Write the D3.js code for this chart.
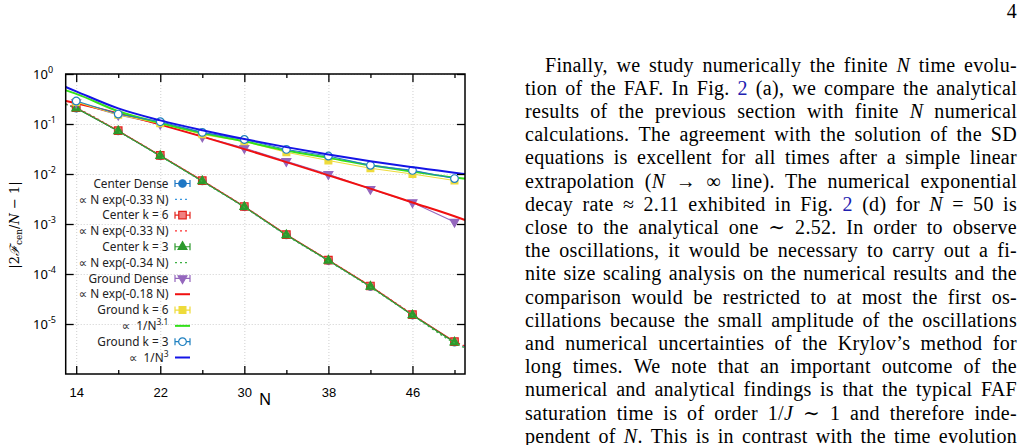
<!DOCTYPE html>
<html>
<head>
<meta charset="utf-8">
<script src="https://cdn.jsdelivr.net/npm/d3@7"></script>
<style>
  body { margin: 0; background: #fff; }
  svg { display: block; }
</style>
</head>
<body>
<svg id="page" width="1024" height="445"></svg>
<script>
// system sizes of the numerical runs
var Ns = [14, 18, 22, 26, 30, 34, 38, 42, 46, 50];

// |2F_cen/N - 1|
var centerDense = [0.208, 0.0725, 0.0232, 0.00725, 0.00221, 6.05e-4, 1.87e-4, 5.65e-5, 1.51e-5, 4.35e-6];
var centerK6 = [0.212, 0.0735, 0.0236, 0.0074, 0.00224, 6.15e-4, 1.9e-4, 5.75e-5, 1.54e-5, 4.45e-6];
var centerK3 = [0.206, 0.072, 0.023, 0.0072, 0.0022, 6.0e-4, 1.86e-4, 5.6e-5, 1.5e-5, 4.3e-6];
var groundDense = [0.27, 0.152, 0.1, 0.056, 0.033, 0.018, 0.0099, 0.005, 0.0027, 0.0011];
var groundK6 = [0.275, 0.153, 0.103, 0.062, 0.045, 0.0272, 0.0186, 0.013, 0.0100, 0.0074];
var groundK3 = [0.288, 0.158, 0.111, 0.068, 0.049, 0.031, 0.0229, 0.0149, 0.0118, 0.0081];

// fitted curves, sampled where they were read
var fitN = [13, 14, 18, 22, 26, 30, 34, 38, 42, 46, 50, 51];
var fitCenterDense = [0.25, 0.207, 0.072, 0.0233, 0.0073, 0.00222, 6.1e-4, 1.88e-4, 5.6e-5, 1.55e-5, 4.4e-6, 3.5e-6];
var fitCenterK6 = [0.252, 0.208, 0.0725, 0.0234, 0.00735, 0.00223, 6.15e-4, 1.9e-4, 5.7e-5, 1.57e-5, 4.5e-6, 3.6e-6];
var fitCenterK3 = [0.248, 0.205, 0.071, 0.0229, 0.0071, 0.00216, 5.95e-4, 1.83e-4, 5.45e-5, 1.5e-5, 4.2e-6, 3.3e-6];
var fitGroundDense = [0.29, 0.261, 0.163, 0.097, 0.056, 0.0314, 0.0173, 0.0094, 0.0051, 0.0027, 0.00143, 0.0012];
var fitGroundK6 = [0.47, 0.40, 0.18, 0.105, 0.066, 0.045, 0.0295, 0.021, 0.0150, 0.0112, 0.0085, 0.0081];
var fitGroundK3 = [0.55, 0.45, 0.205, 0.118, 0.075, 0.050, 0.0345, 0.0245, 0.0180, 0.0137, 0.0106, 0.0100];

var xTicks = [14, 22, 30, 38, 46];
var xMinorTicks = [18, 26, 34, 42, 50];
var yTicks = [1, 1e-1, 1e-2, 1e-3, 1e-4, 1e-5];
var yExponents = ["0", "-1", "-2", "-3", "-4", "-5"];

var bodyLines = [
  "Finally, we study numerically the finite {N} time evolu-",
  "tion of the FAF. In Fig. [2] (a), we compare the analytical",
  "results of the previous section with finite {N} numerical",
  "calculations. The agreement with the solution of the SD",
  "equations is excellent for all times after a simple linear",
  "extrapolation ({N} \u2192 \u221e line). The numerical exponential",
  "decay rate \u2248 2.11 exhibited in Fig. [2] (d) for {N} = 50 is",
  "close to the analytical one \u223c 2.52. In order to observe",
  "the oscillations, it would be necessary to carry out a fi-",
  "nite size scaling analysis on the numerical results and the",
  "comparison would be restricted to at most the first os-",
  "cillations because the small amplitude of the oscillations",
  "and numerical uncertainties of the Krylov\u2019s method for",
  "long times. We note that an important outcome of the",
  "numerical and analytical findings is that the typical FAF",
  "saturation time is of order 1/{J} \u223c 1 and therefore inde-",
  "pendent of {N}. This is in contrast with the time evolution"
];

var svg = d3.select("#page");
svg.append("rect").attr("width", 1024).attr("height", 445).attr("fill", "#fff");

var plotLeft = 65.7, plotRight = 465, plotTop = 74, plotBottom = 374;
var x = d3.scaleLinear().domain([13, 51]).range([plotLeft, plotRight]);
var y = d3.scaleLog().domain([1e-6, 1]).range([plotBottom, plotTop]);

var plot = svg.append("g").attr("font-family", "'Noto Sans', 'DejaVu Sans', sans-serif");

/* ------- GRID -------*/
plot.append("g")
  .attr("transform", "translate(0," + plotBottom + ")")
  .call(d3.axisBottom(x).tickValues(xTicks).tickSize(-(plotBottom - plotTop)).tickFormat(""))
  .call(function (g) { g.select(".domain").remove(); })
  .selectAll("line").attr("stroke", "#cfcfcf").attr("stroke-dasharray", "1,2");
plot.append("g")
  .attr("transform", "translate(" + plotLeft + ",0)")
  .call(d3.axisLeft(y).tickValues(yTicks).tickSize(-(plotRight - plotLeft)).tickFormat(""))
  .call(function (g) { g.select(".domain").remove(); })
  .selectAll("line").attr("stroke", "#cfcfcf").attr("stroke-dasharray", "1,2");

/* ------- SERIES -------*/
var entries = [
  { label: "Center Dense", values: centerDense, color: "#1f77c4", symbol: d3.symbolCircle, size: 44, fill: "#1f77c4" },
  { label: "\u221d N exp(-0.33 N)", fit: fitCenterDense, color: "#3a98e0", dash: "2,3", width: 1.3 },
  { label: "Center k = 6", values: centerK6, color: "#e3231c", symbol: d3.symbolSquare, size: 56, fill: "#f08080" },
  { label: "\u221d N exp(-0.33 N)", fit: fitCenterK6, color: "#ff3030", dash: "2,3", width: 1.3 },
  { label: "Center k = 3", values: centerK3, color: "#2c9a2c", symbol: d3.symbolTriangle, size: 34, fill: "#2c9a2c" },
  { label: "\u221d N exp(-0.34 N)", fit: fitCenterK3, color: "#3cb043", dash: "2,3", width: 1.3 },
  { label: "Ground Dense", values: groundDense, color: "#9467bd", symbol: d3.symbolTriangle, size: 34, fill: "#9467bd", rotate: 180 },
  { label: "\u221d N exp(-0.18 N)", fit: fitGroundDense, color: "#f01010", width: 2 },
  { label: "Ground k = 6", values: groundK6, color: "#eedb3a", symbol: d3.symbolSquare, size: 46, fill: "#eedb3a" },
  { label: "\u221d\u00a0\u00a01/N", sup: "3.1", fit: fitGroundK6, color: "#33e01a", width: 2 },
  { label: "Ground k = 3", values: groundK3, color: "#1f80c0", symbol: d3.symbolCircle, size: 46, fill: "#fff" },
  { label: "\u221d\u00a0\u00a01/N", sup: "3", fit: fitGroundK3, color: "#1414e6", width: 2 }
];

var line = d3.line()
  .x(function (d) { return x(d.n); })
  .y(function (d) { return y(d.v); });
var curve = d3.line()
  .curve(d3.curveMonotoneX)
  .x(function (d) { return x(d.n); })
  .y(function (d) { return y(d.v); });

var marks = plot.append("g");
entries.forEach(function (e) {
  if (e.fit) {
    var pts = fitN.map(function (n, i) { return { n: n, v: e.fit[i] }; });
    marks.append("path")
      .attr("d", curve(pts))
      .attr("fill", "none")
      .attr("stroke", e.color)
      .attr("stroke-width", e.width)
      .attr("stroke-dasharray", e.dash || null);
  } else {
    var data = Ns.map(function (n, i) { return { n: n, v: e.values[i] }; });
    marks.append("path")
      .attr("d", line(data))
      .attr("fill", "none")
      .attr("stroke", e.color)
      .attr("stroke-width", 1.1);
    marks.append("g").selectAll("path")
      .data(data)
      .enter().append("path")
      .attr("d", d3.symbol().type(e.symbol).size(e.size))
      .attr("transform", function (d) {
        return "translate(" + x(d.n) + "," + y(d.v) + ")" + (e.rotate ? " rotate(" + e.rotate + ")" : "");
      })
      .attr("fill", e.fill)
      .attr("stroke", e.color)
      .attr("stroke-width", 1.2);
  }
});

/* ------- AXES -------*/
function clean(g) { g.select(".domain").remove(); g.selectAll("line").attr("stroke", "#000").attr("stroke-width", 1.3); }

var xAxis = plot.append("g").attr("transform", "translate(0," + plotBottom + ")")
  .call(d3.axisBottom(x).tickValues(xTicks).tickSize(-8).tickPadding(14))
  .call(clean);
xAxis.selectAll("text").attr("font-size", 13).attr("fill", "#000").attr("font-family", null);
plot.append("g").attr("transform", "translate(0," + plotBottom + ")")
  .call(d3.axisBottom(x).tickValues(xMinorTicks).tickSize(-4).tickFormat("")).call(clean);
plot.append("g").attr("transform", "translate(0," + plotTop + ")")
  .call(d3.axisTop(x).tickValues(xTicks).tickSize(-8).tickFormat("")).call(clean);
plot.append("g").attr("transform", "translate(0," + plotTop + ")")
  .call(d3.axisTop(x).tickValues(xMinorTicks).tickSize(-4).tickFormat("")).call(clean);
plot.append("g").attr("transform", "translate(" + plotLeft + ",0)")
  .call(d3.axisLeft(y).tickValues(yTicks).tickSize(-8).tickFormat("")).call(clean);
plot.append("g").attr("transform", "translate(" + plotRight + ",0)")
  .call(d3.axisRight(y).tickValues(yTicks).tickSize(-8).tickFormat("")).call(clean);

plot.append("rect")
  .attr("x", plotLeft).attr("y", plotTop)
  .attr("width", plotRight - plotLeft).attr("height", plotBottom - plotTop)
  .attr("fill", "none").attr("stroke", "#000").attr("stroke-width", 1.5);

var yLabels = plot.append("g").selectAll("text")
  .data(yTicks)
  .enter().append("text")
  .attr("x", 33)
  .attr("y", function (d) { return y(d) + 5; })
  .attr("font-size", 13)
  .attr("fill", "#000");
yLabels.append("tspan").text("10");
yLabels.append("tspan")
  .attr("dy", -6.5)
  .attr("font-size", 9)
  .text(function (d, i) { return yExponents[i]; });

plot.append("text")
  .attr("x", 265).attr("y", 405)
  .attr("text-anchor", "middle")
  .attr("font-size", 16)
  .text("N");

var yTitle = svg.append("text")
  .attr("transform", "translate(19,225) rotate(-90)")
  .attr("text-anchor", "middle")
  .attr("font-family", "'DejaVu Serif', 'Liberation Serif', serif")
  .attr("font-size", 13);
yTitle.append("tspan").text("|2");
yTitle.append("tspan").attr("font-style", "italic").text("\u2131");
yTitle.append("tspan").attr("font-size", 9).attr("dy", 3).text("cen");
yTitle.append("tspan").attr("dy", -3).text("/");
yTitle.append("tspan").attr("font-style", "italic").text("N");
yTitle.append("tspan").text(" \u2212 1|");

/* ------- LEGEND -------*/
var legend = plot.append("g");
var rowY = d3.scaleLinear().domain([0, 11]).range([183.5, 357.5]);
entries.forEach(function (e, i) {
  var ly = rowY(i);
  var t = legend.append("text")
    .attr("x", 168.5).attr("y", ly + 4.2)
    .attr("text-anchor", "end")
    .attr("font-size", 11.8)
    .attr("fill", "#222");
  t.append("tspan").text(e.label);
  if (e.sup) t.append("tspan").attr("dy", -5).attr("font-size", 8.5).text(e.sup);

  if (e.fit) {
    legend.append("line")
      .attr("x1", 175).attr("x2", 190).attr("y1", ly).attr("y2", ly)
      .attr("stroke", e.color).attr("stroke-width", e.width)
      .attr("stroke-dasharray", e.dash || null);
  } else {
    legend.append("path")
      .attr("d", "M175," + (ly - 3.5) + "V" + (ly + 3.5) + "M175," + ly + "H190M190," + (ly - 3.5) + "V" + (ly + 3.5))
      .attr("fill", "none").attr("stroke", e.color).attr("stroke-width", 1.2);
    legend.append("path")
      .attr("d", d3.symbol().type(e.symbol).size(e.size))
      .attr("transform", "translate(182.5," + ly + ")" + (e.rotate ? " rotate(" + e.rotate + ")" : ""))
      .attr("fill", e.fill).attr("stroke", e.color).attr("stroke-width", 1.2);
  }
});

/* ------- PAGE TEXT -------*/
var body = svg.append("g")
  .attr("font-family", "'Liberation Serif', 'DejaVu Serif', serif")
  .attr("font-size", 20)
  .attr("letter-spacing", 0.3)
  .attr("fill", "#000");

body.append("text").attr("x", 1017).attr("y", 18).attr("text-anchor", "end").text("4");

var textLeft = 525, textRight = 1017, indent = 20, firstBase = 71.5, lineGap = 23.2;
bodyLines.forEach(function (str, i) {
  var words = str.split(" ");
  var x0 = i === 0 ? textLeft + indent : textLeft;
  var by = firstBase + i * lineGap;
  var nodes = words.map(function (w) {
    var t = body.append("text").attr("y", by);
    w.split(/(\{[^}]*\}|\[[^\]]*\])/).filter(Boolean).forEach(function (part) {
      if (part[0] === "{") t.append("tspan").attr("font-style", "italic").text(part.slice(1, -1));
      else if (part[0] === "[") t.append("tspan").attr("fill", "#2020b0").text(part.slice(1, -1));
      else t.append("tspan").text(part);
    });
    return t;
  });
  var widths = nodes.map(function (n) { return n.node().getComputedTextLength(); });
  var gap = (textRight - x0 - d3.sum(widths)) / (words.length - 1);
  var cx = x0;
  nodes.forEach(function (n, k) { n.attr("x", cx); cx += widths[k] + gap; });
});
</script>
</body>
</html>
